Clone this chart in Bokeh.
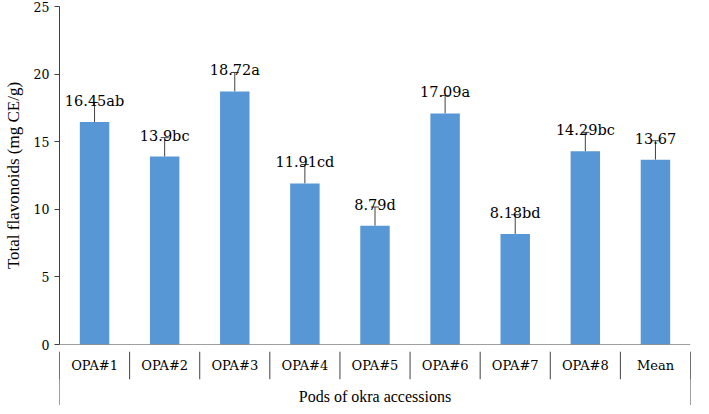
from bokeh.plotting import figure
from bokeh.layouts import column
from bokeh.models import Range1d, FixedTicker, ColumnDataSource, Whisker, TeeHead, LinearAxis
from bokeh.embed import file_html
from bokeh.resources import INLINE
from bokeh.core.properties import value

categories = ["OPA#1", "OPA#2", "OPA#3", "OPA#4", "OPA#5", "OPA#6", "OPA#7", "OPA#8", "Mean"]
means = [16.45, 13.9, 18.72, 11.91, 8.79, 17.09, 8.18, 14.29, 13.67]
letters = ["ab", "bc", "a", "cd", "d", "a", "bd", "bc", ""]
errors = [1.45, 1.4, 1.4, 1.4, 1.38, 1.33, 1.42, 1.4, 1.4]
y_ticks = [0, 5, 10, 15, 20, 25]
x_title = "Pods of okra accessions"
y_title = "Total flavonoids (mg CE/g)"

LINE = "#404040"
BAR = "#5897d6"
SERIF = "Liberation Serif"
GLYPH_SERIF = "DejaVu Serif"

n = len(categories)
xs = [i + 0.5 for i in range(n)]
labels = [str(m) + l for m, l in zip(means, letters)]
uppers = [m + e for m, e in zip(means, errors)]

src = ColumnDataSource(dict(x=xs, top=means, upper=uppers, label=labels, cat=categories))

W = 693
LEFT, RIGHT, TOP = 53, 3, 6
PX = 13.52

p = figure(width=W, height=TOP + int(round(25 * PX)) + 7, x_range=Range1d(0, n), y_range=Range1d(0, 25),
           x_axis_location=None, output_backend="svg", toolbar_location=None,
           min_border_left=LEFT, min_border_right=RIGHT, min_border_top=TOP, min_border_bottom=7)
p.outline_line_color = None
p.grid.visible = False

yax = p.yaxis[0]
yax.ticker = FixedTicker(ticks=y_ticks)
yax.minor_tick_line_color = None
yax.major_tick_in = 0
yax.major_tick_out = 5
yax.axis_line_color = LINE
yax.major_tick_line_color = LINE
yax.major_label_text_font = GLYPH_SERIF
yax.major_label_text_font_size = "12.5px"
yax.major_label_text_color = "black"
yax.major_label_standoff = 5
yax.axis_label = y_title
yax.axis_label_text_font = SERIF
yax.axis_label_text_font_style = "normal"
yax.axis_label_text_font_size = "17px"
yax.axis_label_text_color = "black"
yax.axis_label_standoff = 8

p.vbar(x="x", top="top", bottom=0, width=0.42, source=src, fill_color=BAR, line_color=None)

w = Whisker(base="x", lower="top", upper="upper", source=src, line_color=LINE, line_width=1,
            lower_head=None, upper_head=TeeHead(size=8, line_color=LINE, line_width=1))
p.add_layout(w)

p.text(x="x", y="top", text="label", source=src, y_offset=-21, text_align="center",
       text_baseline="alphabetic", text_font=value(GLYPH_SERIF), text_font_size="14.5px",
       text_color="black")

HB = 54
q = figure(width=W, height=HB, x_range=p.x_range, y_range=Range1d(-3.99, 0.0),
           x_axis_location=None, y_axis_location=None, output_backend="svg", toolbar_location=None,
           min_border_left=LEFT, min_border_right=RIGHT, min_border_top=0, min_border_bottom=0)
q.outline_line_color = None
q.grid.visible = False
q.segment(x0=list(range(n + 1)), y0=[0] * (n + 1), x1=list(range(n + 1)), y1=[-2.05] * (n + 1),
          line_color=LINE, line_width=1)
q.segment(x0=[0, n], y0=[0, 0], x1=[0, n], y1=[-3.99, -3.99], line_color=LINE, line_width=1)
q.text(x="x", y=-1.0, text="cat", source=src, text_align="center", text_baseline="middle",
       text_font=value(GLYPH_SERIF), text_font_size="13px", text_color="black")

xt = LinearAxis(fixed_location=-2.65, ticker=FixedTicker(ticks=[]), axis_line_color=None,
                major_tick_line_color=None, minor_tick_line_color=None, major_tick_out=0,
                major_label_text_font_size="0px", axis_label=x_title, axis_label_standoff=0,
                axis_label_text_font=SERIF, axis_label_text_font_style="normal",
                axis_label_text_font_size="16px", axis_label_text_color="black")
q.add_layout(xt, "below")

p.segment(x0=[0], y0=[0], x1=[n], y1=[0], line_color=LINE, line_width=1)

layout = column(p, q, spacing=-7)
open("out.html", "w").write(file_html(layout, INLINE))
